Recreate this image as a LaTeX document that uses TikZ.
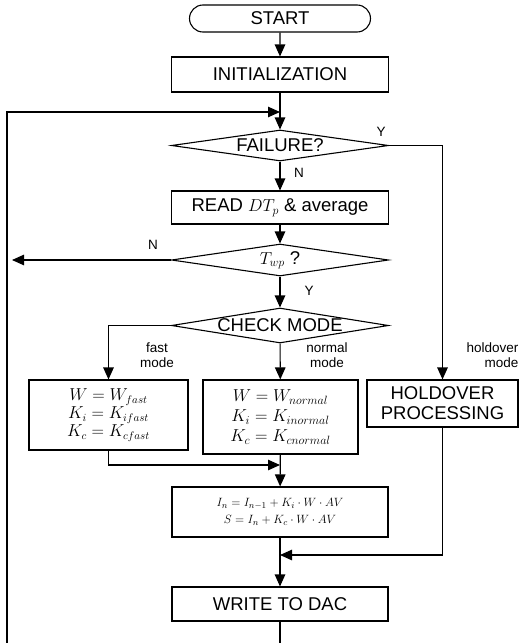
\documentclass[tikz,border=0pt]{standalone}
\usepackage{fontspec}
\setmainfont{Liberation Sans}
\usetikzlibrary{arrows.meta,shapes.geometric,shapes.misc}

\begin{document}
\begin{tikzpicture}[x=1pt,y=-1pt,line width=1.1pt,
  arr/.style={-{Triangle[length=12pt,width=10.5pt]}},
  box/.style={draw,inner sep=0pt,font=\fontsize{18.5}{20}\selectfont,align=center},
  decide/.style={draw,diamond,aspect=6,inner sep=0pt,minimum width=217pt,font=\fontsize{18.5}{20}\selectfont},
  lbl/.style={font=\fontsize{13.5}{15.5}\selectfont,inner sep=0pt,align=center}]
  \useasboundingbox (0,0) rectangle (522,643);
  % main column
  \node[box,rounded rectangle,minimum width=181pt,minimum height=27pt] (start) at (280,18.5) {START};
  \node[box,minimum width=217pt,minimum height=35pt] (init) at (280,74.5) {INITIALIZATION};
  \node[decide,minimum height=31pt] (fail) at (280,145.5) {FAILURE?};
  \node[box,minimum width=217pt,minimum height=33pt] (read) at (280,207.5) {READ $DT_p$ \& average};
  \node[decide,minimum height=32pt] (twp) at (280,260) {$T_{wp}$ ?};
  \node[decide,minimum height=35pt] (check) at (280,325.5) {CHECK MODE};
  % mode boxes
  \node[box,minimum width=159pt,minimum height=70pt,font=\fontsize{16}{18}\selectfont] (fast) at (108.5,415)
    {$W = W_{fast}$\\$K_i = K_{ifast}$\\$K_c = K_{cfast}$};
  \node[box,minimum width=155pt,minimum height=74pt,font=\fontsize{17}{20}\selectfont] (normal) at (280.5,417)
    {$W = W_{normal}$\\$K_i = K_{inormal}$\\$K_c = K_{cnormal}$};
  \node[box,minimum width=151pt,minimum height=47pt] (hold) at (442.5,403.5) {HOLDOVER\\PROCESSING};
  \node[box,minimum width=216pt,minimum height=50pt,font=\fontsize{13}{17}\selectfont] (calc) at (280,512)
    {$I_n = I_{n-1} + K_i\cdot W\cdot AV$\\$S = I_n + K_c\cdot W\cdot AV$};
  \node[box,minimum width=216pt,minimum height=34pt] (dac) at (280,604) {WRITE TO DAC};
  % junction points
  \coordinate (loopbot) at (7,643);
  \coordinate (join) at (280,112);
  \coordinate (exitN) at (12,260);
  \coordinate (merge1) at (280,465);
  \coordinate (merge2) at (280,555);
  \coordinate (dacout) at (280,643);
  % connectors
  \draw[arr] (start) -- (init);
  \draw (init) -- (join);
  \draw[arr] (loopbot) |- (join);
  \draw[arr] (join) -- (fail);
  \draw[arr] (fail.east) -| (hold.north);
  \draw[arr] (fail) -- (read);
  \draw[arr] (read) -- (twp);
  \draw[arr] (twp.west) -- (exitN);
  \draw[arr] (twp) -- (check);
  \draw[arr] (check.west) -| (fast.north);
  \draw[arr] (check) -- (normal);
  \draw[arr] (fast.south) |- (merge1);
  \draw[arr] (normal) -- (calc);
  \draw (calc) -- (merge2);
  \draw[arr] (hold.south) |- (merge2);
  \draw[arr] (merge2) -- (dac);
  \draw (dac) -- (dacout);
  % labels
  \node[lbl] (lblY1) at (381,132) {Y};
  \node[lbl] (lblN1) at (299,173) {N};
  \node[lbl] (lblN2) at (153,245) {N};
  \node[lbl] (lblY2) at (309,291) {Y};
  \node[lbl] (lblfast) at (157,355) {fast\\mode};
  \node[lbl] (lblnormal) at (327,355) {normal\\mode};
  \node[lbl,align=right,anchor=east] (lblhold) at (519,355) {holdover\\mode};
\end{tikzpicture}
\end{document}
